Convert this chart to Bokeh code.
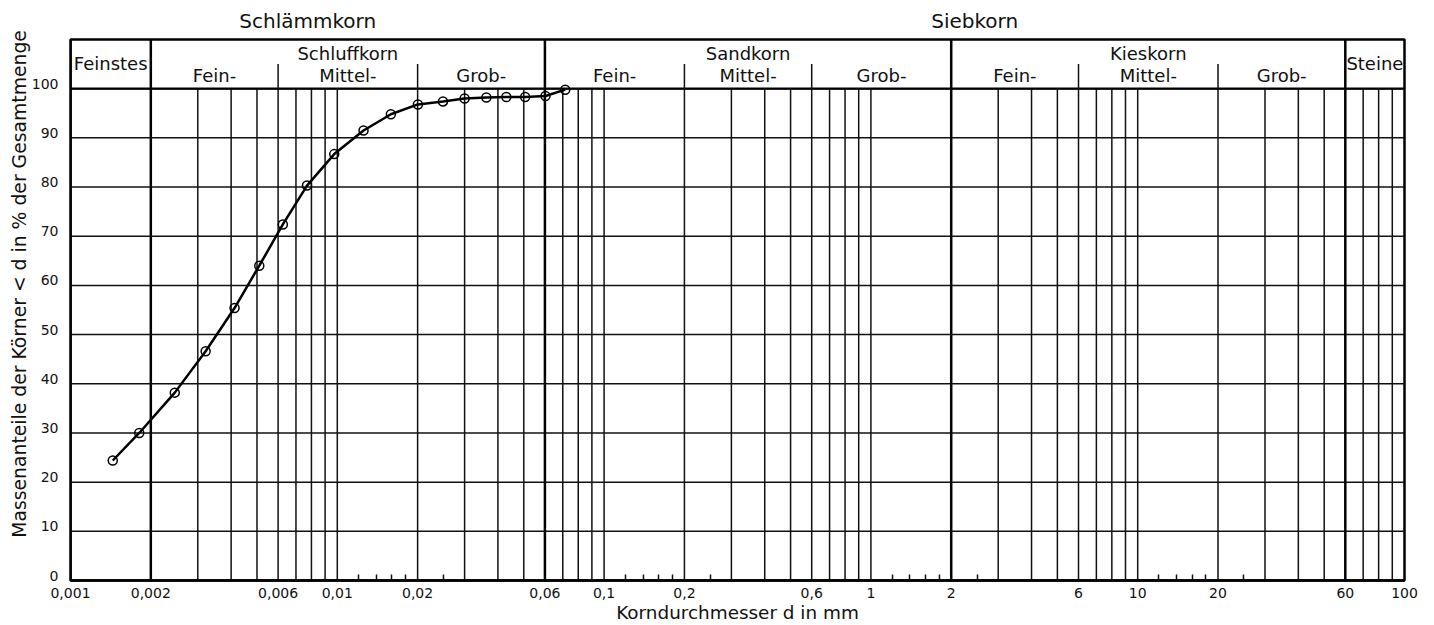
import math
from bokeh.plotting import figure
from bokeh.models import FixedTicker, Range1d, LinearAxis, LogAxis
from bokeh.embed import file_html
from bokeh.resources import INLINE
from bokeh.core.properties import value

# ---------------- data ----------------
diam_mm = [0.00144, 0.00181, 0.00246, 0.00321, 0.00412, 0.0051, 0.00625, 0.0077,
           0.00974, 0.01254, 0.01588, 0.02005, 0.0249, 0.03, 0.0362, 0.043,
           0.0506, 0.0603, 0.0715]
passing_pct = [24.4, 30.0, 38.2, 46.6, 55.4, 64.0, 72.4, 80.3, 86.7, 91.5, 94.8,
               96.8, 97.4, 98.0, 98.2, 98.3, 98.3, 98.5, 99.8]

x_tick_values = [0.001, 0.002, 0.006, 0.01, 0.02, 0.06, 0.1, 0.2, 0.6, 1, 2, 6, 10, 20, 60, 100]
x_tick_labels = ["0,001", "0,002", "0,006", "0,01", "0,02", "0,06", "0,1", "0,2", "0,6",
                 "1", "2", "6", "10", "20", "60", "100"]
y_tick_values = [0, 10, 20, 30, 40, 50, 60, 70, 80, 90, 100]

decades = [0.001, 0.01, 0.1, 1, 10]
grid_multipliers = [2, 3, 4, 5, 6, 7, 8, 9, 10]
minor_decades = [0.01, 0.1, 1, 10]
minor_multipliers = [1.2, 1.4, 1.6, 1.8, 2.5]

main_names = ["Feinstes", "Schluffkorn", "Sandkorn", "Kieskorn", "Steine"]
main_bounds = [0.001, 0.002, 0.06, 2, 60, 100]
main_has_sub = [False, True, True, True, False]
sub_names = ["Fein-", "Mittel-", "Grob-"]
sub_bounds = [[0.002, 0.006, 0.02, 0.06], [0.06, 0.2, 0.6, 2], [2, 6, 20, 60]]
super_names = ["Schlämmkorn", "Siebkorn"]
super_bounds = [0.001, 0.06, 100]

x_title = "Korndurchmesser d in mm"
y_title = "Massenanteile der Körner < d in % der Gesamtmenge"

Y_TOP = 110
FONT = "DejaVu Sans"
INK = "#111111"

geo = lambda a, b: math.sqrt(a * b)

# ---------------- figure ----------------
p = figure(width=1425, height=625, x_axis_type="log", y_axis_location=None,
           x_range=Range1d(main_bounds[0], main_bounds[-1]), y_range=Range1d(0, Y_TOP),
           output_backend="svg", toolbar_location=None,
           min_border_left=70, min_border_right=21, min_border_top=39, min_border_bottom=45)
p.background_fill_color = "white"
p.border_fill_color = "white"
p.outline_line_color = "black"
p.outline_line_width = 2.5

# label ranges (tick labels sit slightly above their grid lines, as in the original)
p.extra_y_ranges = {"ylab": Range1d(-1.0, Y_TOP - 1.0), "ytitle": Range1d(0, Y_TOP)}

# grid: horizontal
p.xgrid.visible = False
p.ygrid.visible = False
p.segment(x0=[main_bounds[0]] * len(y_tick_values), y0=y_tick_values,
          x1=[main_bounds[-1]] * len(y_tick_values), y1=y_tick_values,
          line_color=INK, line_width=1.5)

# grid: vertical thin lines (0..100)
thick = set(main_bounds)
vx = sorted(set(round(m * d, 10) for d in decades for m in grid_multipliers))
vx = [v for v in vx if v not in thick]
p.segment(x0=vx, y0=[0] * len(vx), x1=vx, y1=[100] * len(vx),
          line_color=INK, line_width=1.5)

# thick boundaries, up through the header
bx = main_bounds[1:-1]
p.segment(x0=bx, y0=[0] * len(bx), x1=bx, y1=[Y_TOP] * len(bx),
          line_color="black", line_width=2.5)
# 100 % line (header bottom) a bit heavier
p.segment(x0=[main_bounds[0]], y0=[100], x1=[main_bounds[-1]], y1=[100],
          line_color="black", line_width=2.2)
# left border
p.segment(x0=[main_bounds[0]], y0=[0], x1=[main_bounds[0]], y1=[Y_TOP],
          line_color="black", line_width=2.5)

# header sub dividers
sx = [b for bl in sub_bounds for b in bl[1:-1]]
p.segment(x0=sx, y0=[100] * len(sx), x1=sx, y1=[105] * len(sx),
          line_color=INK, line_width=1.5)

# header texts
hx, hy, ht = [], [], []
k = 0
for i, name in enumerate(main_names):
    a, b = main_bounds[i], main_bounds[i + 1]
    hx.append(geo(a, b)); ht.append(name)
    if main_has_sub[i]:
        hy.append(107.2)
        sb = sub_bounds[k]
        for j, s in enumerate(sub_names):
            hx.append(geo(sb[j], sb[j + 1])); hy.append(102.7); ht.append(s)
        k += 1
    else:
        hy.append(105.1)
p.text(x=hx, y=hy, text=ht, text_font=value(FONT), text_font_size=value("18px"),
       text_align="center", text_baseline="middle", text_color=INK)

# curve
p.line(diam_mm, passing_pct, line_color="black", line_width=2.5)
p.scatter(diam_mm, passing_pct, marker="circle", size=9, fill_color=None,
          line_color="black", line_width=1.5)

# ---------------- axes ----------------
xa = p.xaxis[0]
minor = [round(m * d, 10) for d in minor_decades for m in minor_multipliers]
xa.ticker = FixedTicker(ticks=x_tick_values, minor_ticks=minor)
xa.major_label_overrides = {v: l for v, l in zip(x_tick_values, x_tick_labels)}
xa.major_tick_in = 0
xa.major_tick_out = 0
xa.minor_tick_in = 6
xa.minor_tick_out = 0
xa.minor_tick_line_color = INK
xa.minor_tick_line_width = 1.5
xa.axis_line_width = 2.5
xa.axis_line_color = "black"
xa.major_label_standoff = 7
xa.major_label_text_font = FONT
xa.major_label_text_font_size = "14px"
xa.major_label_text_color = INK
xa.axis_label = x_title
xa.axis_label_text_font = FONT
xa.axis_label_text_font_size = "18.4px"
xa.axis_label_text_font_style = "normal"
xa.axis_label_text_color = INK
xa.axis_label_standoff = 1

# y tick labels
ya = LinearAxis(y_range_name="ylab", ticker=FixedTicker(ticks=y_tick_values))
ya.axis_line_color = None
ya.major_tick_in = 0
ya.major_tick_out = 0
ya.minor_tick_in = 0
ya.minor_tick_out = 0
ya.major_label_standoff = 12
ya.major_label_text_font = FONT
ya.major_label_text_font_size = "14px"
ya.major_label_text_color = INK
p.add_layout(ya, "left")

# y title placed like the original (centred at ~60 %)
yt_pos = 60.3
yt = LinearAxis(y_range_name="ytitle", ticker=FixedTicker(ticks=[yt_pos]))
yt.major_label_overrides = {yt_pos: y_title}
yt.major_label_orientation = "parallel"
yt.axis_line_color = None
yt.major_tick_in = 0
yt.major_tick_out = 0
yt.minor_tick_in = 0
yt.minor_tick_out = 0
yt.major_label_standoff = -2
yt.major_label_text_font = FONT
yt.major_label_text_font_size = "18.8px"
yt.major_label_text_color = INK
p.add_layout(yt, "left")

# group titles above the header
sup_pos = [geo(super_bounds[i], super_bounds[i + 1]) for i in range(len(super_names))]
ta = LogAxis(ticker=FixedTicker(ticks=sup_pos))
ta.major_label_overrides = {v: n for v, n in zip(sup_pos, super_names)}
ta.axis_line_color = None
ta.major_tick_in = 0
ta.major_tick_out = 0
ta.minor_tick_in = 0
ta.minor_tick_out = 0
ta.major_label_standoff = 7
ta.major_label_text_font = FONT
ta.major_label_text_font_size = "20px"
ta.major_label_text_color = INK
p.add_layout(ta, "above")

open("out.html", "w").write(file_html(p, INLINE))
